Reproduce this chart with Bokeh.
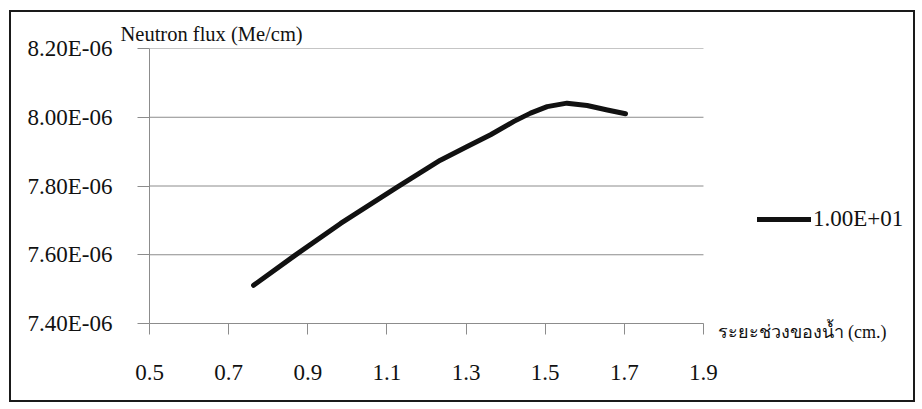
from bokeh.plotting import figure
from bokeh.models import (Range1d, FixedTicker, CustomJSTickFormatter, Title,
                          Legend, LegendItem)
from bokeh.embed import file_html
from bokeh.resources import INLINE

# ---- data ----
water_gap_cm = [0.763, 0.865, 0.983, 1.126, 1.235, 1.303, 1.362, 1.421,
                1.463, 1.505, 1.555, 1.606, 1.657, 1.703]
neutron_flux = [7.511e-6, 7.596e-6, 7.691e-6, 7.797e-6, 7.875e-6, 7.915e-6,
                7.949e-6, 7.988e-6, 8.012e-6, 8.031e-6, 8.041e-6, 8.034e-6,
                8.021e-6, 8.010e-6]
series_name = "1.00E+01"
x_ticks = [0.5, 0.7, 0.9, 1.1, 1.3, 1.5, 1.7, 1.9]
y_ticks = [7.4e-6, 7.6e-6, 7.8e-6, 8.0e-6, 8.2e-6]
x_title = "ระยะช่วงของน้ำ (cm.)"
y_title = "Neutron flux (Me/cm)"

SERIF = "Liberation Serif"
GRID = "#8c8c8c"
INK = "#111111"

x_lo, x_hi = x_ticks[0], x_ticks[-1]
y_lo, y_hi = y_ticks[0], y_ticks[-1]

# frame runs on to the right border so the legend is not clipped;
# axis and gridlines are bounded to the tick extent
p = figure(width=906, height=392, output_backend="svg", toolbar_location=None,
           x_range=Range1d(x_lo, 2.4358), y_range=Range1d(y_lo, y_hi),
           min_border_left=138, min_border_top=36, min_border_right=2,
           min_border_bottom=81)
p.styles = {"border": "2px solid #1a1a1a", "margin-left": "9px",
            "margin-top": "10px"}
p.outline_line_color = None
p.xgrid.grid_line_color = None
p.ygrid.grid_line_color = None

# axes
p.xaxis.ticker = FixedTicker(ticks=x_ticks)
p.yaxis.ticker = FixedTicker(ticks=y_ticks)
p.xaxis.bounds = (x_lo, x_hi)
p.yaxis.bounds = (y_lo, y_hi)
p.yaxis.formatter = CustomJSTickFormatter(code="""
    const s = tick.toExponential(2);
    const parts = s.split('e');
    const e = parseInt(parts[1]);
    const sign = e < 0 ? '-' : '+';
    const n = Math.abs(e);
    return parts[0] + 'E' + sign + (n < 10 ? '0' : '') + n;
""")
p.xaxis.formatter = CustomJSTickFormatter(code="return tick.toFixed(1);")

for ax in (p.xaxis, p.yaxis):
    ax.axis_line_color = GRID
    ax.major_tick_line_color = GRID
    ax.minor_tick_line_color = None
    ax.major_tick_in = 0
    ax.major_label_text_font = SERIF
    ax.major_label_text_font_size = "23px"
    ax.major_label_text_color = INK

p.yaxis.major_tick_out = 12
p.yaxis.major_label_standoff = 25
p.xaxis.major_tick_out = 11
p.xaxis.major_label_standoff = 30

# y-axis title above the axis top
p.add_layout(Title(text=y_title, align="left", offset=-29, standoff=7,
                   vertical_align="bottom", text_font=SERIF,
                   text_font_size="20.5px", text_font_style="normal",
                   text_color=INK), "above")

# x-axis title at the right end of the x axis, pulled up to axis level
p.add_layout(Title(text=x_title, align="left", offset=568, standoff=-122,
                   vertical_align="top", text_font=SERIF,
                   text_font_size="18px", text_font_style="normal",
                   text_color=INK), "below")

# horizontal gridlines limited to the axis extent
p.segment(x0=x_lo, x1=x_hi, y0=y_ticks, y1=y_ticks, line_color=GRID,
          line_width=1)

# series
r = p.line(water_gap_cm, neutron_flux, line_color=INK, line_width=5,
           line_cap="round", line_join="round")

legend = Legend(items=[LegendItem(label=series_name, renderers=[r])],
                location=(608, 91), orientation="vertical",
                glyph_width=54, glyph_height=20, label_height=20,
                label_standoff=2, padding=0, margin=0, spacing=0,
                border_line_color=None, background_fill_alpha=0,
                label_text_font=SERIF, label_text_font_size="23px",
                label_text_color=INK, label_text_baseline="middle")
p.add_layout(legend, "center")

open("out.html", "w").write(file_html(p, INLINE))
